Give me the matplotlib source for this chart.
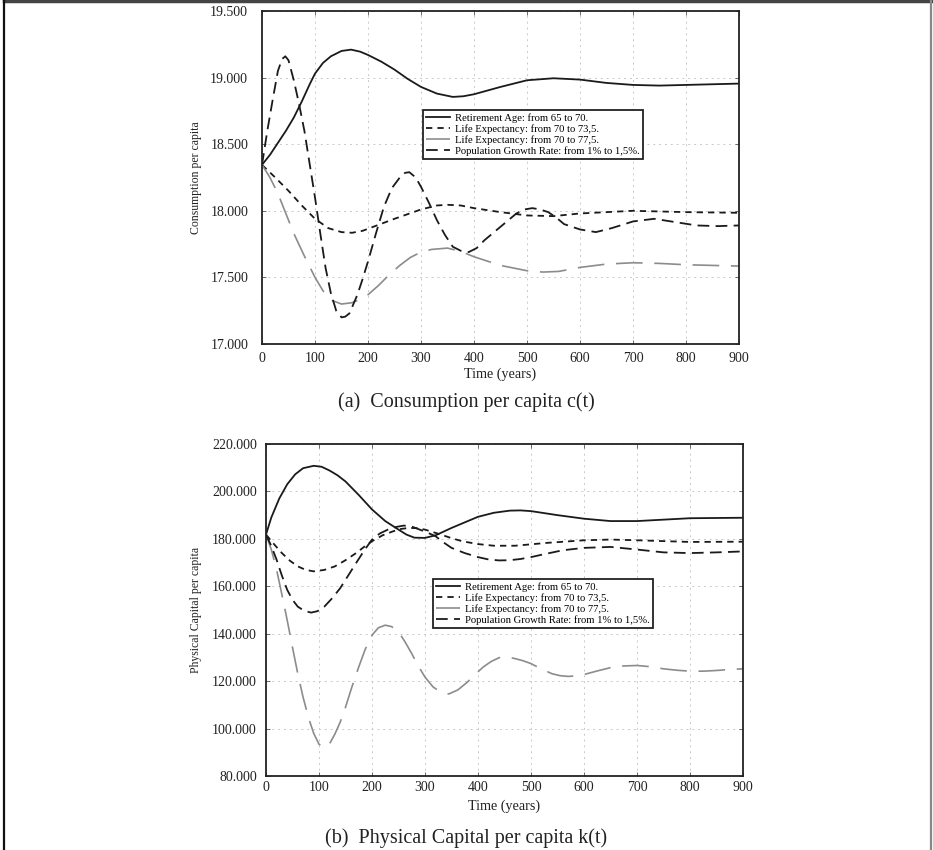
'''Recreate consumption and physical capital per capita transitions.'''
# pylint: disable=invalid-name
import matplotlib
matplotlib.use('Agg')
import matplotlib.pyplot as plt
from matplotlib.lines import Line2D
from matplotlib.ticker import FuncFormatter, MultipleLocator

plt.rcParams['font.family'] = ['Liberation Serif', 'DejaVu Serif']

LABELS = ['Retirement Age: from 65 to 70.',
          'Life Expectancy: from 70 to 73,5.',
          'Life Expectancy: from 70 to 77,5.',
          'Population Growth Rate: from 1% to 1,5%.']

# ---- panel (a): consumption per capita ----
C_RET_T = [0, 15, 30, 45, 60, 75, 90, 100, 115, 130, 150, 168, 185, 200,
           225, 250, 275, 300, 330, 360, 380, 400, 450, 500, 550, 600, 650,
           700, 750, 800, 900]
C_RET = [18345, 18420, 18510, 18600, 18700, 18820, 18950, 19030, 19110,
         19160, 19200, 19210, 19195, 19170, 19120, 19060, 18990, 18930,
         18880, 18855, 18860, 18875, 18930, 18980, 18995, 18985, 18960,
         18945, 18940, 18945, 18955]

C_LE1_T = [0, 25, 50, 75, 100, 125, 150, 170, 190, 210, 250, 300, 330,
           350, 375, 400, 450, 500, 550, 600, 700, 800, 900]
C_LE1 = [18345, 18250, 18150, 18040, 17940, 17870, 17840, 17835, 17850,
         17880, 17940, 18010, 18040, 18045, 18040, 18020, 17990, 17965,
         17960, 17980, 18000, 17990, 17985]

C_LE2_T = [0, 15, 30, 45, 60, 80, 100, 115, 130, 150, 170, 185, 200, 220,
           240, 260, 280, 300, 320, 350, 375, 400, 450, 500, 530, 560, 600,
           650, 700, 750, 800, 850, 900]
C_LE2 = [18345, 18250, 18130, 17980, 17830, 17660, 17500, 17400, 17330,
         17300, 17310, 17335, 17370, 17440, 17520, 17590, 17650, 17690,
         17710, 17720, 17695, 17655, 17590, 17550, 17540, 17545, 17575,
         17600, 17610, 17605, 17595, 17590, 17585]

C_POP_T = [0, 10, 20, 30, 38, 44, 50, 60, 70, 80, 90, 100, 110, 120, 130,
           140, 150, 157, 165, 180, 190, 200, 215, 230, 245, 260, 270, 278,
           290, 300, 315, 330, 345, 360, 375, 390, 405, 420, 450, 480, 495,
           510, 525, 540, 555, 570, 600, 630, 660, 700, 740, 780, 820, 860,
           900]
C_POP = [18345, 18600, 18830, 19050, 19140, 19160, 19130, 18980, 18800,
         18600, 18350, 18100, 17830, 17570, 17380, 17250, 17200, 17205,
         17230, 17370, 17490, 17620, 17830, 18030, 18170, 18250, 18285,
         18290, 18250, 18180, 18060, 17930, 17820, 17730, 17700, 17690,
         17720, 17780, 17880, 17980, 18010, 18020, 18010, 17990, 17950,
         17900, 17860, 17840, 17870, 17920, 17940, 17915, 17890, 17885,
         17890]

# ---- panel (b): physical capital per capita ----
K_RET_T = [0, 10, 25, 40, 55, 70, 90, 105, 120, 135, 150, 175, 200, 225,
           250, 265, 280, 300, 320, 350, 400, 430, 460, 480, 500, 550, 600,
           650, 700, 750, 800, 900]
K_RET = [181800, 189000, 197000, 203000, 207200, 209800, 210800, 210400,
         208800, 206800, 204200, 198500, 192400, 187500, 183900, 181800,
         180500, 180400, 181500, 184600, 189300, 191000, 191900, 192000,
         191700, 190000, 188500, 187500, 187500, 188100, 188700, 188900]

K_LE1_T = [0, 15, 30, 45, 60, 75, 90, 110, 130, 150, 170, 185, 200, 220,
           240, 255, 270, 285, 300, 330, 350, 370, 400, 430, 470, 530, 600,
           650, 700, 800, 900]
K_LE1 = [181800, 177800, 174000, 170800, 168400, 166900, 166300, 166900,
         168400, 171000, 174000, 176600, 179000, 181500, 183200, 184200,
         184600, 184500, 183900, 181800, 180300, 179000, 177800, 177100,
         177100, 178300, 179400, 179700, 179400, 178700, 178800]

K_LE2_T = [0, 10, 20, 30, 40, 50, 60, 70, 80, 90, 100, 110, 120, 130, 140,
           150, 162, 175, 187, 200, 212, 225, 237, 250, 262, 275, 287, 300,
           315, 330, 345, 362, 380, 395, 410, 425, 440, 455, 470, 485, 500,
           520, 540, 555, 570, 585, 600, 625, 650, 675, 700, 725, 750, 775,
           800, 825, 850, 875, 900]
K_LE2 = [181800, 175500, 167000, 156500, 145700, 134200, 123100, 113200,
         104700, 98000, 93400, 92000, 93600, 97700, 102700, 109000, 117500,
         126000, 133300, 139400, 142500, 143600, 143000, 140800, 136700,
         131600, 126500, 121700, 117600, 115300, 114600, 116300, 119600,
         122900, 126000, 128300, 129900, 130200, 129500, 128600, 127400,
         125100, 123100, 122300, 122000, 122200, 122800, 124300, 125700,
         126400, 126600, 126100, 125200, 124600, 124200, 124200, 124500,
         124900, 125200]

K_POP_T = [0, 10, 20, 30, 40, 50, 60, 72, 85, 97, 110, 125, 140, 155, 170,
           185, 200, 215, 230, 245, 260, 275, 290, 305, 320, 335, 350, 375,
           400, 420, 440, 460, 480, 500, 520, 560, 600, 650, 700, 750, 800,
           850, 900]
K_POP = [181800, 177000, 171200, 164500, 158500, 154300, 151400, 149700,
         148900, 149500, 151400, 155000, 159200, 164500, 169800, 175000,
         179700, 182300, 183900, 185000, 185600, 185200, 183900, 182600,
         181100, 178500, 176200, 174000, 172300, 171300, 170900, 171000,
         171500, 172300, 173300, 175200, 176200, 176600, 175500, 174300,
         174000, 174300, 174700]

STYLES = [dict(color='#1a1a1a', linestyle='-', linewidth=1.3),
          dict(color='#1a1a1a', linestyle=(0, (3.5, 2.8)), linewidth=1.3),
          dict(color='#8c8c8c', linestyle=(0, (16, 7)), linewidth=1.2),
          dict(color='#1a1a1a', linestyle=(0, (6.5, 3.5)), linewidth=1.3)]


def thousands(v, _pos):
    '''Format ticks with dot as thousands separator.'''
    return f'{v:,.0f}'.replace(',', '.')


def draw_panel(ax, series, ylim, ystep, ylabel, opts):
    '''Draw one panel with its four scenario lines.'''
    for (t, v), style, label in zip(series, STYLES, LABELS):
        ax.plot(t, v, label=label, **style)

    ax.set_xlim(0, 900)
    ax.set_ylim(*ylim)
    ax.xaxis.set_major_locator(MultipleLocator(100))
    ax.yaxis.set_major_locator(MultipleLocator(ystep))
    ax.yaxis.set_major_formatter(FuncFormatter(thousands))
    ax.grid(True, color='#c8c8c8', linestyle=(0, (2, 4)), linewidth=0.7)
    ax.tick_params(direction='in', length=3, width=0.6, colors='#555555',
                   labelcolor='#222222', labelsize=10, top=True, right=True)
    ax.tick_params(axis='y', pad=opts['ypad'])
    ax.tick_params(axis='x', pad=opts['xpad'])
    for sp in ax.spines.values():
        sp.set_linewidth(1.3)
        sp.set_color('#222222')

    ax.set_xlabel('Time (years)', fontsize=10.2, color='#222222')
    ax.xaxis.set_label_coords(0.5, opts['xlab_y'])
    ax.set_ylabel(ylabel, fontsize=8.5, color='#222222')
    ax.yaxis.set_label_coords(opts['ylab_x'], 0.5)

    leg = ax.legend(loc='upper left', bbox_to_anchor=opts['leg'],
                    fontsize=7.7, frameon=True, fancybox=False,
                    borderaxespad=0, handlelength=2.2, labelspacing=0.12,
                    borderpad=0.3, handletextpad=0.5)
    leg.get_frame().set_edgecolor('#222222')
    leg.get_frame().set_linewidth(1.3)
    leg.get_frame().set_alpha(1)


def main():
    '''Main.'''
    fig = plt.figure(figsize=(9.33, 8.5), dpi=100)

    # top axes: x 262..739, y 11..344 (pixels)
    ax1 = fig.add_axes([262 / 933, 1 - 344 / 850, 477 / 933, 333 / 850])
    draw_panel(ax1,
               [(C_RET_T, C_RET), (C_LE1_T, C_LE1),
                (C_LE2_T, C_LE2), (C_POP_T, C_POP)],
               (17000, 19500), 500, 'Consumption per capita',
               dict(ypad=10, xpad=6, xlab_y=-0.072, ylab_x=-0.125,
                    leg=(0.3375, 0.703)))

    # bottom axes: x 266..743, y 444..776 (pixels)
    ax2 = fig.add_axes([266 / 933, 1 - 776 / 850, 477 / 933, 332 / 850])
    draw_panel(ax2,
               [(K_RET_T, K_RET), (K_LE1_T, K_LE1),
                (K_LE2_T, K_LE2), (K_POP_T, K_POP)],
               (80000, 220000), 20000, 'Physical Capital per capita',
               dict(ypad=6.5, xpad=3.6, xlab_y=-0.072, ylab_x=-0.135,
                    leg=(0.350, 0.593)))

    fig.text(0.5, 1 - 402 / 850, '(a)  Consumption per capita c(t)',
             ha='center', va='center', fontsize=14.5, color='#222222')
    fig.text(0.5, 1 - 838 / 850,
             '(b)  Physical Capital per capita k(t)',
             ha='center', va='center', fontsize=14.5, color='#222222')

    # outer frame (top, left and right edges)
    fig.add_artist(Line2D([0.004, 0.998], [0.999, 0.999], color='#444444',
                          linewidth=2.5, transform=fig.transFigure))
    fig.add_artist(Line2D([0.004, 0.004], [0.0, 0.999], color='#111111',
                          linewidth=1.6, transform=fig.transFigure))
    fig.add_artist(Line2D([0.998, 0.998], [0.0, 0.999], color='#888888',
                          linewidth=1.6, transform=fig.transFigure))

    fig.savefig('out.png', dpi=100)


if __name__ == '__main__':
    main()
